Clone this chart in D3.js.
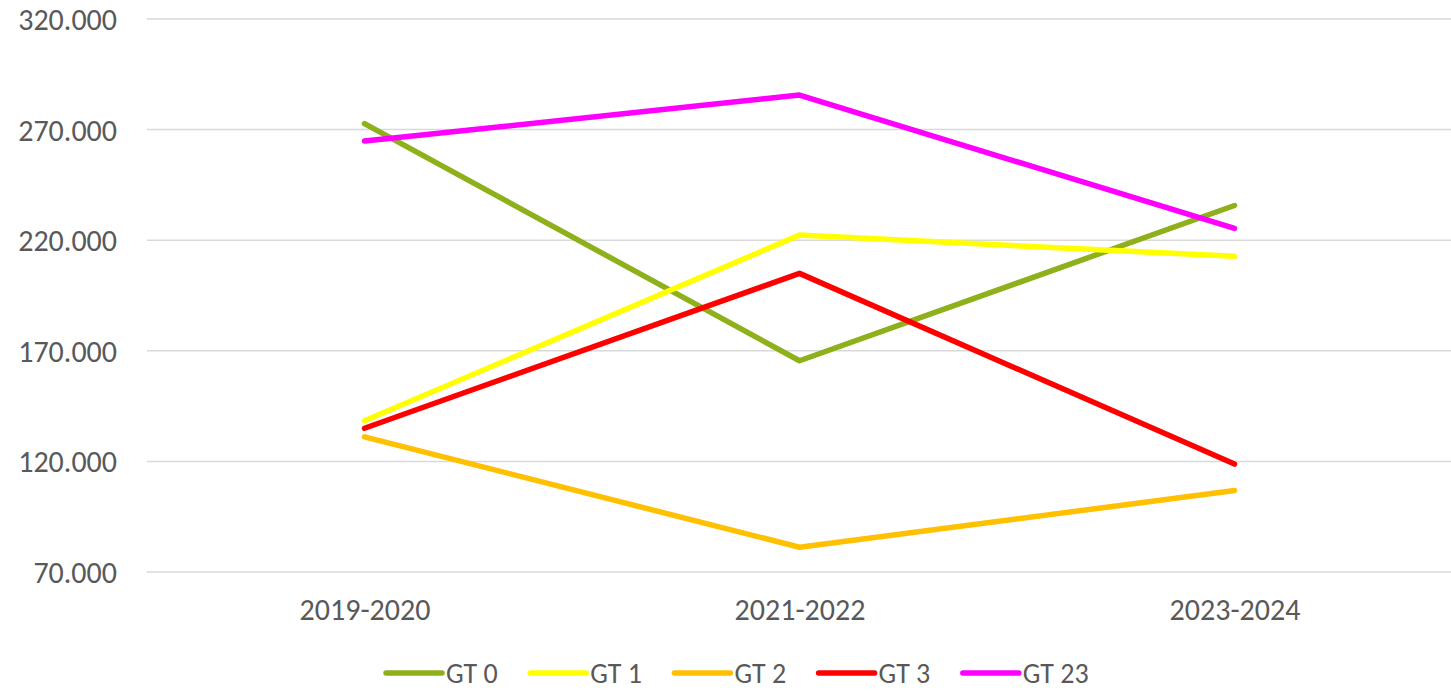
<!DOCTYPE html>
<html>
<head>
<meta charset="utf-8">
<script src="https://cdn.jsdelivr.net/npm/d3@7"></script>
<style>
  body { margin: 0; background: #fff; }
  svg text { font-family: Carlito, Lato, "Open Sans", sans-serif; }
  .grid line { stroke: #d9d9d9; stroke-width: 1.5; }
  .axis text { fill: #595959; font-size: 30px; }
  .legend text { fill: #595959; font-size: 28px; }
  .line { fill: none; stroke-width: 5.5; stroke-linecap: round; stroke-linejoin: round; }
</style>
</head>
<body>
<div id="chart"></div>
<script>
// set the dimensions and margins of the graph
let margin = {top: 19, right: -1, bottom: 121, left: 147},
    width = 1451 - margin.left - margin.right,
    height = 693 - margin.top - margin.bottom;

// data
const CATEGORIES = ["2019-2020", "2021-2022", "2023-2024"];
const SERIES = ["GT 0", "GT 1", "GT 2", "GT 3", "GT 23"];
const COLORS = ["#8db01b", "#ffff00", "#ffc000", "#ff0000", "#ff00ff"];
const GT0 = [272.7, 165.5, 235.7];
const GT1 = [138.4, 222.3, 212.7];
const GT2 = [131.1, 81.2, 106.8];
const GT3 = [135.0, 205.0, 118.8];
const GT23 = [264.8, 285.6, 225.3];
const Y_TICKS = [70, 120, 170, 220, 270, 320];

const VALUES = [GT0, GT1, GT2, GT3, GT23];

// thousands shown with a dot and three decimals, as in the source
const fmt = (d) => d3.format(".3f")(d);

// set the ranges
let x = d3.scalePoint().domain(CATEGORIES).range([0, width]).padding(0.5);
let y = d3.scaleLinear().domain([70, 320]).range([height, 0]);

let svg = d3.select("#chart").append("svg")
    .attr("width", width + margin.left + margin.right)
    .attr("height", height + margin.top + margin.bottom)
    .append("g")
    .attr("transform", "translate(" + margin.left + "," + margin.top + ")");

// horizontal gridlines
svg.append("g")
    .attr("class", "grid")
    .selectAll("line")
    .data(Y_TICKS)
    .enter().append("line")
    .attr("x1", 0)
    .attr("x2", width)
    .attr("y1", (d) => y(d))
    .attr("y2", (d) => y(d));

// y axis labels
let yAxis = svg.append("g")
    .attr("class", "y axis")
    .attr("transform", "translate(-30,0)")
    .call(d3.axisLeft(y).tickValues(Y_TICKS).tickSize(0).tickPadding(0).tickFormat(fmt));
yAxis.select(".domain").remove();
yAxis.selectAll("text").attr("dy", "0.35em");

// x axis labels
let xAxis = svg.append("g")
    .attr("class", "x axis")
    .attr("transform", "translate(0," + height + ")")
    .call(d3.axisBottom(x).tickSize(0).tickPadding(0));
xAxis.select(".domain").remove();
xAxis.selectAll("text").attr("dy", null).attr("y", 48);

// the lines
let line = d3.line()
    .x((d, i) => x(CATEGORIES[i]))
    .y((d) => y(d));

SERIES.forEach(function (s, i) {
    svg.append("path")
        .datum(VALUES[i])
        .attr("class", "line")
        .attr("stroke", COLORS[i])
        .attr("d", line);
});

// legend
let legend = svg.append("g")
    .attr("class", "legend")
    .attr("transform", "translate(" + (386 - margin.left) + "," + (673 - margin.top) + ")");

let item = legend.selectAll("g")
    .data(SERIES)
    .enter().append("g")
    .attr("transform", (d, i) => "translate(" + (i * 144.2) + ",0)");

item.append("line")
    .attr("class", "line")
    .attr("x1", 0)
    .attr("x2", 56)
    .attr("y1", 0)
    .attr("y2", 0)
    .attr("stroke", (d, i) => COLORS[i]);

item.append("text")
    .attr("x", 60)
    .attr("dy", "0.35em")
    .text((d) => d);
</script>
</body>
</html>
